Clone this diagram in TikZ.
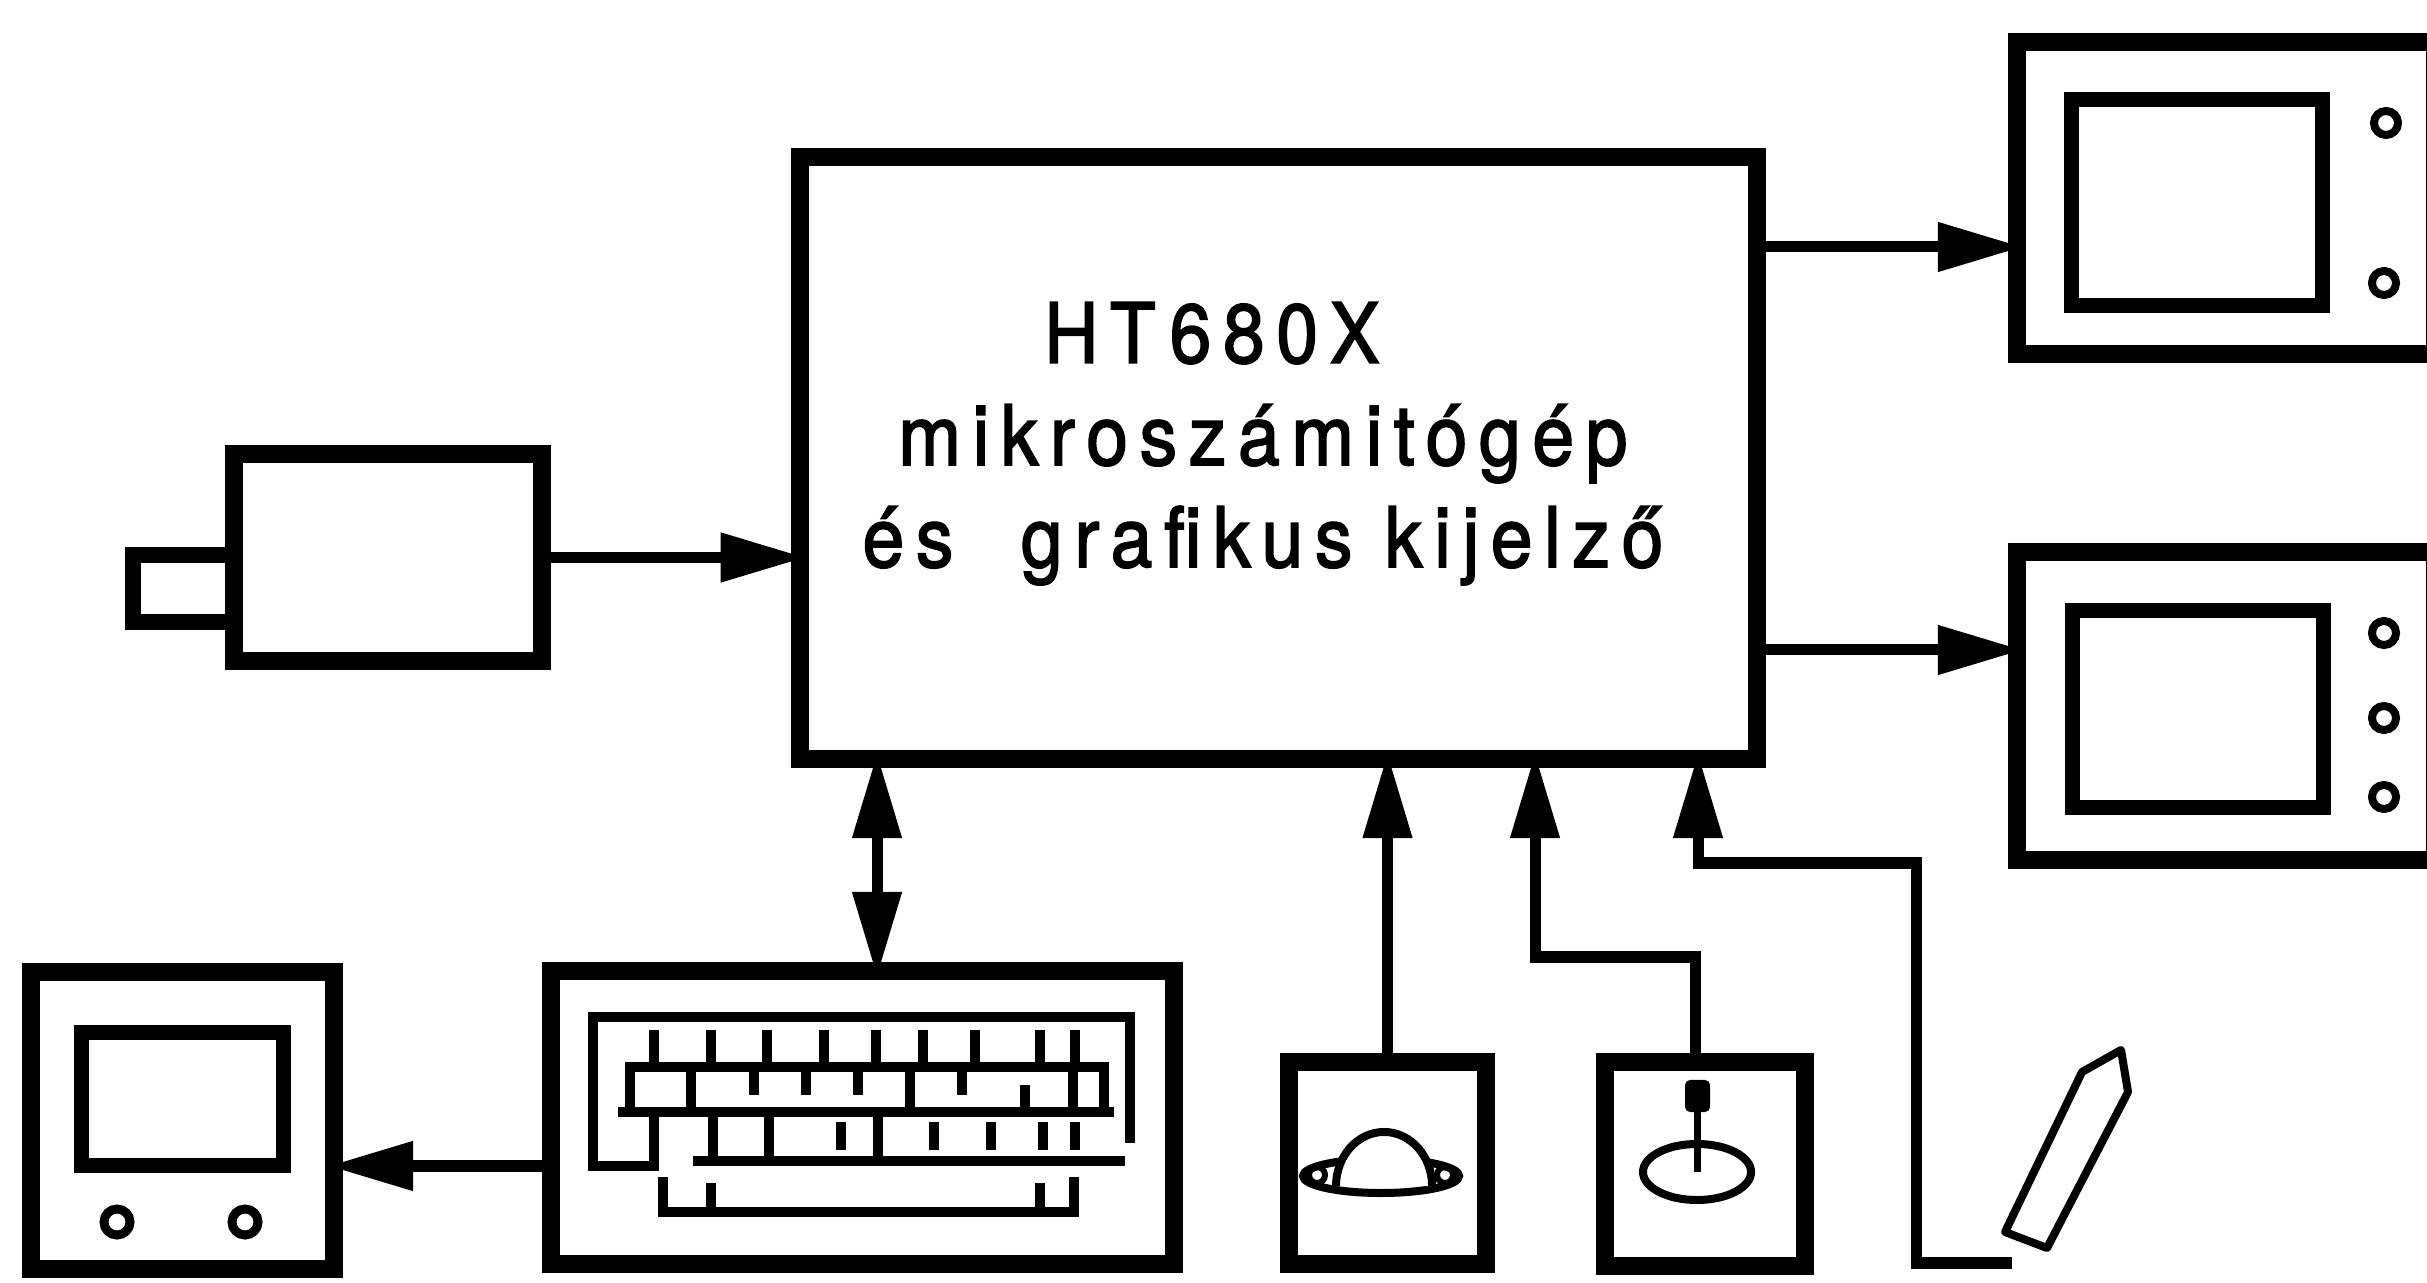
\documentclass[tikz,border=0pt]{standalone}
\usepackage{fontspec}
\newfontfamily\tagfont{TeX Gyre Heros}[FakeStretch=0.9,LetterSpace=14,FakeBold=2]
\usetikzlibrary{arrows.meta,positioning}

\tikzset{
  box/.style={draw,line width=1.8mm,inner sep=0pt},
  screen/.style={draw,line width=1.5mm,inner sep=0pt},
  wire/.style={line width=1.1mm},
  sym/.style={line width=0.8mm},
  conn/.style={wire,-{Triangle[length=8.5mm,width=4.7mm]},shorten >=-1.5mm},
  dconn/.style={wire,{Triangle[length=8.5mm,width=4.7mm]}-{Triangle[length=8.5mm,width=4.7mm]},
    shorten >=-1.5mm,shorten <=-1.5mm},
  label/.style={anchor=base,align=center,inner sep=0pt,
    font=\tagfont\fontsize{23.7pt}{1.02cm}\selectfont}
}

\begin{document}
\setlength{\lineskiplimit}{-1cm}
\begin{tikzpicture}[x=0.01cm,y=-0.01cm]
\useasboundingbox (0,0) rectangle (2427,1283);
\clip (0,0) rectangle (2427,1283);
\fill[white] (0,0) rectangle (2427,1283);

% computer
\node[box,minimum width=9.57cm,minimum height=6.02cm] (cpu) at (1278.5,458) {};
\node[label] (name) at (1263,567)
  {HT\,680X\hspace*{1.02cm}\\ mikroszámitógép\hspace*{0.28cm}\\
   és\hspace*{0.35cm} grafikus kijelző};

% camera
\node[box,minimum width=3.08cm,minimum height=2.07cm] (cam) at (388,557.5) {};
\node[box,line width=1.6mm,minimum width=1.01cm,minimum height=0.67cm] (lens) at (183.5,588.5) {};

% displays on the right
\node[box,minimum width=4.18cm,minimum height=3.12cm] (mon1) at (2226,198) {};
\node[screen,minimum width=2.5cm,minimum height=2.05cm] (scr1) at (2197,202.5) {};
\draw[sym] (2386,123) circle[radius=1.2mm] (2384,283) circle[radius=1.2mm];

\node[box,minimum width=4.18cm,minimum height=3.08cm] (mon2) at (2226,706) {};
\node[screen,minimum width=2.5cm,minimum height=1.96cm] (scr2) at (2198,709) {};
\draw[sym] (2384,633) circle[radius=1.2mm] (2384,718) circle[radius=1.2mm]
  (2384,797) circle[radius=1.2mm];

% display on the left
\node[box,minimum width=3.03cm,minimum height=2.97cm] (mon3) at (182.5,1120.5) {};
\node[screen,minimum width=2.01cm,minimum height=1.32cm] (scr3) at (182.5,1099) {};
\draw[sym,line width=0.9mm] (117,1222) circle[radius=1.3mm] (245,1222) circle[radius=1.3mm];

% keyboard
\node[box,minimum width=6.23cm,minimum height=2.93cm] (kbd) at (862.5,1117.5) {};
\begin{scope}[line width=1mm]
  \draw (1130,1143) -- (1130,1017) -- (593,1017) -- (593,1166) -- (654,1166) -- (654,1112);
  \foreach \k in {654,711,767,824,876,923,975,1040,1075}
    \draw (\k,1030) -- (\k,1067);
  \draw (630,1067) rectangle (1104,1112);
  \draw (618,1112) -- (1114,1112);
  \foreach \k in {691,910,1073}
    \draw (\k,1067) -- (\k,1112);
  \foreach \k in {754,806,858,962}
    \draw (\k,1067) -- (\k,1095);
  \draw (1025,1085) -- (1025,1112);
  \foreach \k in {713,769,878}
    \draw (\k,1112) -- (\k,1161);
  \foreach \k in {841,934,991,1043,1075}
    \draw (\k,1122) -- (\k,1150);
  \draw (693,1161) -- (1125,1161);
  \draw (663,1177) -- (663,1212) -- (1074,1212) -- (1074,1177);
  \draw (711,1183) -- (711,1212) (1040,1183) -- (1040,1212);
\end{scope}

% trackball
\node[box,minimum width=1.97cm,minimum height=2.02cm] (ball) at (1387.5,1163) {};
\draw[sym] (1381,1176) ellipse[x radius=7.8mm,y radius=1.7mm];
\fill[white] (1336,1186) arc[start angle=180,end angle=0,x radius=4.8mm,y radius=5.4mm] -- cycle;
\draw[sym] (1336,1186) arc[start angle=180,end angle=0,x radius=4.8mm,y radius=5.4mm];
\draw[sym,line width=0.6mm] (1317,1175) circle[radius=0.8mm] (1445,1175) circle[radius=0.8mm];

% joystick
\node[box,minimum width=2cm,minimum height=2.04cm] (joy) at (1705,1164) {};
\draw[sym] (1697,1172) ellipse[x radius=5.4mm,y radius=2.8mm];
\draw[line width=0.7mm] (1697,1172) -- (1697,1100);
\fill[rounded corners=0.5mm] (1685,1080) rectangle (1710,1112);

% light pen
\draw[sym,line join=round] (2005,1232) -- (2047,1248) -- (2128,1092) -- (2121,1050)
  -- (2082,1072) -- cycle;
\coordinate (pen) at (2012,1263);

% connections
\coordinate (t1) at (0,247);
\coordinate (t2) at (0,650);
\coordinate (t3) at (877,0);
\coordinate (t4) at (0,1166);
\coordinate (j) at (1535,957);
\coordinate (p) at (1698,863);
\coordinate (pk) at (1916,863);

\draw[conn] (cam.east) -- (cam.east -| cpu.west);
\draw[conn] (t1 -| cpu.east) -- (t1 -| mon1.west);
\draw[conn] (t2 -| cpu.east) -- (t2 -| mon2.west);
\draw[dconn] (t3 |- cpu.south) -- (t3 |- kbd.north);
\draw[conn] (t4 -| kbd.west) -- (t4 -| mon3.east);
\draw[conn] (ball.north) -- (ball.north |- cpu.south);
\draw[conn] ([xshift=-1mm]joy.north) |- (j) -- (j |- cpu.south);
\draw[conn] (pen) -| (pk) -- (p) -- (p |- cpu.south);

\end{tikzpicture}
\end{document}
